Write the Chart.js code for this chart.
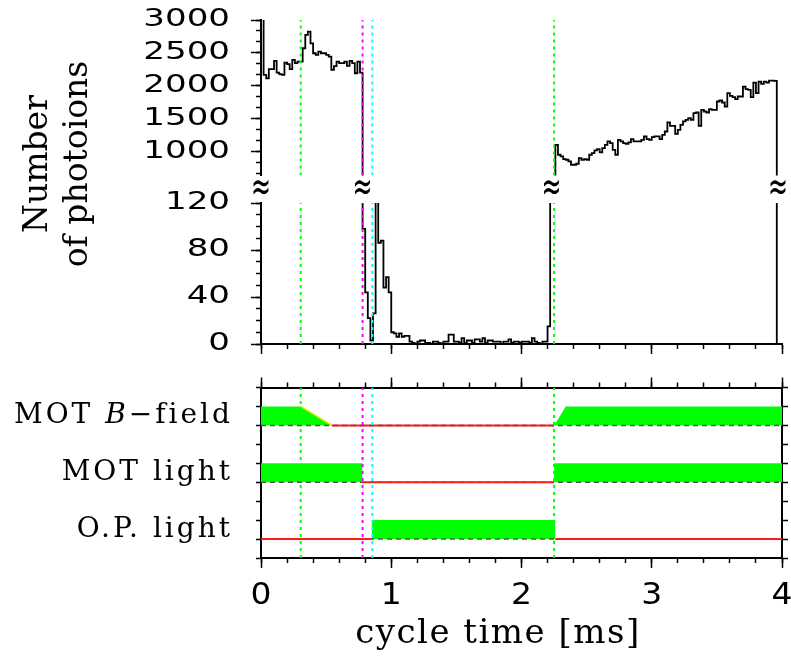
<!DOCTYPE html>
<html>
<head>
<meta charset="utf-8">
<script src="https://cdn.jsdelivr.net/npm/chart.js@4"></script>
<style>
  html, body { margin: 0; padding: 0; background: #fff; }
  #wrap { position: relative; width: 791px; height: 660px; }
  #wrap canvas { position: absolute; left: 0; top: 0; }
</style>
</head>
<body>
<div id="wrap">
  <canvas id="upper" width="791" height="660"></canvas>
  <canvas id="lower" width="791" height="660"></canvas>
  <canvas id="timing" width="791" height="660"></canvas>
</div>
<script>
// --- data ---
const binWidth = 0.02; // ms per histogram bin
const counts = [
  3200, 2167, 2116, 2253, 2253, 2379, 2202, 2180, 2167, 2353,
  2330, 2253, 2394, 2344, 2369, 2369, 2571, 2773, 2823, 2646,
  2495, 2470, 2520, 2495, 2495, 2470, 2444, 2242, 2300, 2369,
  2344, 2344, 2369, 2303, 2379, 2344, 2192, 2369, 2202, 98,
  44, 22, 3, 26, 160, 86, 88, 48, 57, 44,
  10, 9, 6, 9, 6, 7, 7, 2, 1, 0,
  2, 3, 3, 1, 1, 0, 2, 2, 1, 0,
  2, 2, 8, 8, 2, 2, 1, 5, 1, 3,
  3, 1, 4, 4, 2, 5, 1, 3, 3, 2,
  2, 2, 0, 2, 2, 4, 1, 2, 2, 1,
  2, 2, 2, 1, 5, 2, 1, 0, 2, 2,
  15, 300, 500, 1106, 955, 930, 889, 879, 854, 803,
  803, 818, 904, 879, 889, 879, 955, 980, 1020, 1041,
  990, 1056, 1106, 1157, 1132, 1030, 955, 1182, 1157, 1132,
  1121, 1142, 1192, 1157, 1157, 1157, 1182, 1233, 1192, 1182,
  1222, 1233, 1233, 1192, 1258, 1308, 1445, 1394, 1394, 1273,
  1333, 1409, 1460, 1485, 1510, 1485, 1586, 1596, 1394, 1637,
  1611, 1596, 1647, 1637, 1637, 1763, 1778, 1748, 1687, 1889,
  1849, 1828, 1798, 1839, 1839, 1990, 1950, 1940, 1828, 2051,
  1889, 2066, 2030, 2066, 2051, 2081, 2081, 2076, 0, 0
];

// vertical marker lines (ms)
const markerTimes = [0.305, 0.78, 0.855, 2.25];
// where the histogram crosses the axis break
const breakTimes = [0, 0.78, 2.23, 3.97];

// tick values
const timeMajor = [0, 1, 2, 3, 4];
const timeMinor = [0, 0.2, 0.4, 0.6, 0.8, 1, 1.2, 1.4, 1.6, 1.8, 2, 2.2, 2.4, 2.6, 2.8, 3, 3.2, 3.4, 3.6, 3.8, 4];
const upperMajor = [1000, 1500, 2000, 2500, 3000];
const upperMinor = [666.7, 833.3, 1000, 1166.7, 1333.3, 1500, 1666.7, 1833.3, 2000, 2166.7, 2333.3, 2500, 2666.7, 2833.3, 3000];
const lowerMajor = [0, 40, 80, 120];
const lowerMinor = [0, 10, 20, 30, 40, 50, 60, 70, 80, 90, 100, 110, 120];
const timingTicks = [0, 1, 2, 3, 4, 5, 6, 7, 8, 9];

// timing channels: baseline level on the lower panel, on-shapes as [time, level 0..1], off-segments
const channelBase = [7, 4, 1];
const bFieldOn = [{ t: [0, 0.305, 0.545], v: [1, 1, 0] }, { t: [2.25, 2.34, 4], v: [0, 1, 1] }];
const bFieldRamp = { t: [0.305, 0.545], v: [1, 0] };
const bFieldOff = [[0.545, 2.25]];
const motLightOn = [{ t: [0, 0.78], v: [1, 1] }, { t: [2.25, 4], v: [1, 1] }];
const motLightOff = [[0.78, 2.25]];
const opLightOn = [{ t: [0.85, 2.26], v: [1, 1] }];
const opLightOff = [[0, 0.85], [2.26, 4]];

// --- styles ---
const markerColors = ['#00ff00', '#ff00ff', '#00ffff', '#00ff00'];
const SANS = '"DejaVu Sans", sans-serif';
const SERIF = '"DejaVu Serif", serif';

function fixedTicks(values) {
  return scale => { scale.ticks = values.map(v => ({ value: v })); };
}

function timeAxis(position, values, len) {
  return {
    type: 'linear', axis: 'x', position: position, min: 0, max: 4, bounds: 'data',
    afterBuildTicks: fixedTicks(values),
    afterFit: s => { s.height = 0; s.paddingLeft = 0; s.paddingRight = 0; },
    grid: { drawOnChartArea: false, tickLength: len, tickWidth: 1.5, tickColor: '#000' },
    border: { display: true, color: '#000', width: 2 },
    ticks: { display: false, autoSkip: false }
  };
}

function valueAxis(position, min, max, values, len, width, weight, border) {
  return {
    type: 'linear', axis: 'y', position: position, min: min, max: max, bounds: 'data', weight: weight,
    afterBuildTicks: fixedTicks(values),
    afterFit: s => { s.width = width; s.paddingTop = 0; s.paddingBottom = 0; },
    grid: { drawOnChartArea: false, tickLength: len, tickWidth: 1.5, tickColor: '#000' },
    border: { display: border, color: '#000', width: 2 },
    ticks: { display: false, autoSkip: false }
  };
}

function markerSets(lo, hi) {
  return markerTimes.map((t, k) => ({
    data: [{ x: t, y: lo }, { x: t, y: hi }],
    borderColor: markerColors[k], borderWidth: 2, borderDash: [3, 4],
    pointRadius: 0, order: 0
  }));
}

const histPoints = counts.map((c, i) => ({ x: i * binWidth, y: c }));
histPoints.push({ x: counts.length * binWidth, y: 0 });

function histSet() {
  return {
    data: histPoints, stepped: true, borderColor: '#000', borderWidth: 1.8,
    pointRadius: 0, fill: false, order: 1
  };
}

// numbers on the axes, drawn from the scales' own ticks (wide glyphs like the original)
function drawNumbers(ctx, scale, vertical) {
  ctx.save();
  ctx.fillStyle = '#000';
  ctx.textBaseline = 'middle';
  scale.ticks.forEach(t => {
    const p = scale.getPixelForValue(t.value);
    ctx.save();
    if (vertical) {
      ctx.font = '24px ' + SANS;
      ctx.textAlign = 'right';
      ctx.translate(scale.right - 31, p);
      ctx.scale(1.42, 1);
    } else {
      ctx.font = '30px ' + SANS;
      ctx.textAlign = 'center';
      ctx.translate(p, scale.top + 38);
      ctx.scale(1.1, 1);
    }
    ctx.fillText(String(t.value), 0, 0);
    ctx.restore();
  });
  ctx.restore();
}

const valueNumbers = {
  id: 'valueNumbers',
  afterDraw(chart) { drawNumbers(chart.ctx, chart.scales.y, true); }
};

const baseOptions = {
  responsive: false, animation: false, events: [], devicePixelRatio: 1,
  plugins: { legend: { display: false }, tooltip: { enabled: false } }
};

// y-axis title across both count panels
const countTitle = {
  id: 'countTitle',
  afterDraw(chart) {
    const ctx = chart.ctx;
    ctx.save();
    ctx.fillStyle = '#000';
    ctx.font = '33px ' + SERIF;
    ctx.textAlign = 'center';
    ctx.textBaseline = 'alphabetic';
    [['Number', 47], ['of photoions', 87]].forEach(([txt, x]) => {
      ctx.save();
      ctx.translate(x, 164);
      ctx.rotate(-Math.PI / 2);
      ctx.fillText(txt, 0, 0);
      ctx.restore();
    });
    ctx.restore();
  }
};

// break marks between the two count panels
const breakMarks = {
  id: 'breakMarks',
  afterDraw(chart) {
    const ctx = chart.ctx, x = chart.scales.x, top = chart.chartArea.top;
    ctx.save();
    ctx.fillStyle = '#000';
    ctx.font = '34px ' + SANS;
    ctx.textAlign = 'center';
    ctx.textBaseline = 'middle';
    breakTimes.forEach(t => {
      ctx.save();
      ctx.translate(x.getPixelForValue(t), top - 14);
      ctx.scale(0.7, 1.2);
      ctx.fillText('\u2248', 0, 0);
      ctx.restore();
    });
    ctx.restore();
  }
};

const channelLabels = [
  [{ text: 'MOT ' }, { text: 'B', italic: true }, { text: '\u2212field' }],
  [{ text: 'MOT light' }],
  [{ text: 'O.P. light' }]
];

const timingText = {
  id: 'timingText',
  afterDraw(chart) {
    const ctx = chart.ctx, y = chart.scales.y, area = chart.chartArea;
    drawNumbers(ctx, chart.scales.x, false);
    ctx.save();
    ctx.fillStyle = '#000';
    ctx.textBaseline = 'middle';
    ctx.textAlign = 'left';
    ctx.letterSpacing = '3px';
    const fontOf = p => (p.italic ? 'italic ' : '') + '28px ' + SERIF;
    channelLabels.forEach((parts, k) => {
      const yc = y.getPixelForValue(channelBase[k] + 0.5);
      let total = 0;
      parts.forEach(p => { ctx.font = fontOf(p); total += ctx.measureText(p.text).width; });
      let x = area.left - 28 - total;
      parts.forEach(p => {
        ctx.font = fontOf(p);
        ctx.fillText(p.text, x, yc);
        x += ctx.measureText(p.text).width;
      });
    });
    ctx.font = '34px ' + SERIF;
    ctx.letterSpacing = '1.5px';
    ctx.textAlign = 'center';
    ctx.textBaseline = 'alphabetic';
    ctx.fillText('cycle time [ms]', 498, area.bottom + 85);
    ctx.restore();
  }
};

// --- upper count panel (640 .. 3000) ---
new Chart(document.getElementById('upper'), {
  type: 'line',
  data: { datasets: [histSet()].concat(markerSets(640, 3000)) },
  options: Object.assign({}, baseOptions, {
    layout: { padding: { top: 20, right: 9, bottom: 660 - 175.5, left: 0 } },
    scales: {
      x: { type: 'linear', min: 0, max: 4, display: false },
      y: valueAxis('left', 640, 3000, upperMajor, 10, 261, 1, true),
      yMinor: valueAxis('left', 640, 3000, upperMinor, 5, 0, 0, false)
    }
  }),
  plugins: [valueNumbers, countTitle]
});

// --- lower count panel (0 .. 120) ---
new Chart(document.getElementById('lower'), {
  type: 'line',
  data: { datasets: [histSet()].concat(markerSets(0, 120)) },
  options: Object.assign({}, baseOptions, {
    layout: { padding: { top: 203, right: 9, bottom: 660 - 344, left: 0 } },
    scales: {
      x: timeAxis('bottom', timeMajor, 10),
      xMinor: timeAxis('bottom', timeMinor, 5),
      y: valueAxis('left', 0, 120, lowerMajor, 10, 261, 1, true),
      yMinor: valueAxis('left', 0, 120, lowerMinor, 5, 0, 0, false)
    }
  }),
  plugins: [valueNumbers, breakMarks]
});

// --- timing panel ---
function onSets(shapes, base) {
  return shapes.map(s => ({
    data: s.t.map((t, i) => ({ x: t, y: base + s.v[i] })),
    fill: { value: base }, backgroundColor: '#00ff00',
    borderColor: 'rgba(0,0,0,0)', borderWidth: 1, pointRadius: 0, order: 6
  }));
}
function offSets(segs, base) {
  return segs.map(s => ({
    data: [{ x: s[0], y: base }, { x: s[1], y: base }],
    borderColor: '#ff1a1a', borderWidth: 2, pointRadius: 0, order: 4
  }));
}
function baselineSet(base, order) {
  return {
    data: [{ x: 0, y: base }, { x: 4, y: base }],
    borderColor: '#555', borderWidth: 1.5, borderDash: [5, 4], pointRadius: 0, order: order
  };
}

const timingSets = []
  .concat(onSets(bFieldOn, channelBase[0]))
  .concat(onSets(motLightOn, channelBase[1]))
  .concat(onSets(opLightOn, channelBase[2]))
  .concat([baselineSet(channelBase[1], 5), baselineSet(channelBase[2], 5)])
  .concat(offSets(bFieldOff, channelBase[0]))
  .concat(offSets(motLightOff, channelBase[1]))
  .concat(offSets(opLightOff, channelBase[2]))
  .concat([baselineSet(channelBase[0], 3)])
  .concat([{
    data: bFieldRamp.t.map((t, i) => ({ x: t, y: channelBase[0] + bFieldRamp.v[i] })),
    borderColor: '#e8e800', borderWidth: 1.5, pointRadius: 0, order: 2
  }])
  .concat(markerSets(0, 9));

new Chart(document.getElementById('timing'), {
  type: 'line',
  data: { datasets: timingSets },
  options: Object.assign({}, baseOptions, {
    layout: { padding: { top: 387.5, right: 0, bottom: 102, left: 0 } },
    scales: {
      x: timeAxis('bottom', timeMajor, 10),
      xMinor: timeAxis('bottom', timeMinor, 5),
      xTop: timeAxis('top', timeMajor, 10),
      xTopMinor: timeAxis('top', timeMinor, 5),
      y: valueAxis('left', 0, 9, timingTicks, 5, 261, 0, true),
      yRight: valueAxis('right', 0, 9, timingTicks, 6, 9, 0, true)
    }
  }),
  plugins: [timingText]
});
</script>
</body>
</html>
